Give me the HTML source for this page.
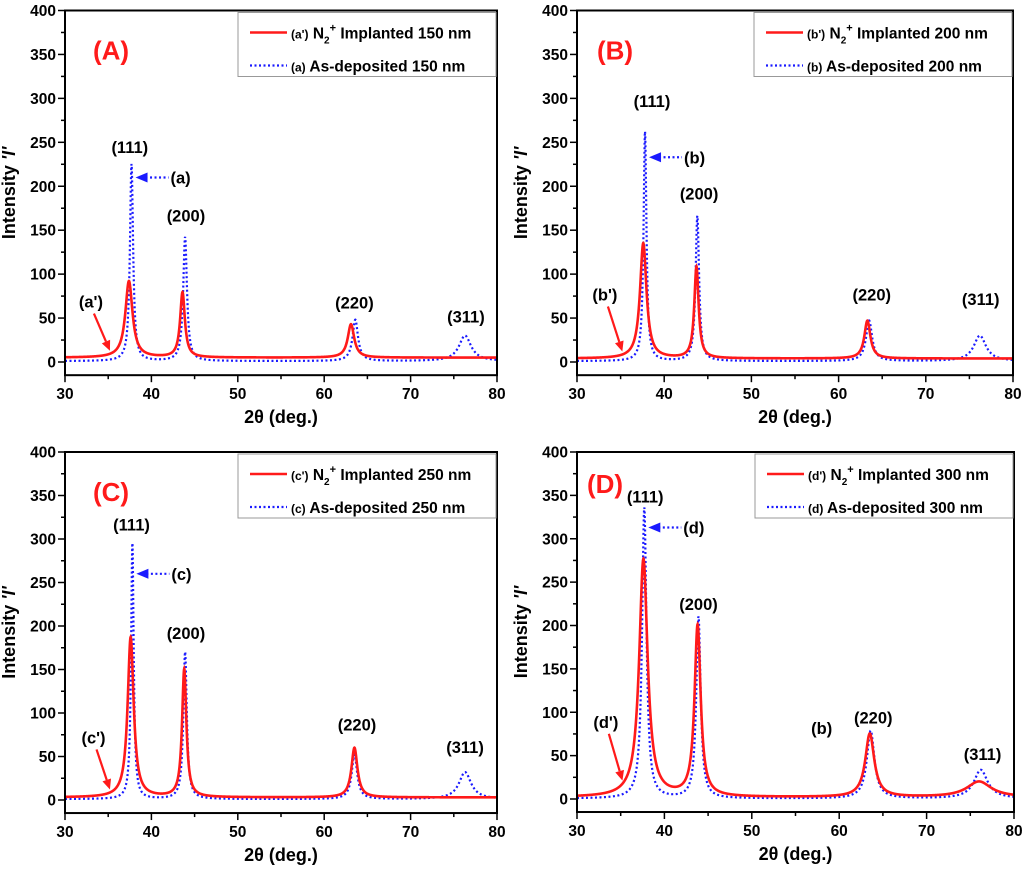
<!DOCTYPE html>
<html><head><meta charset="utf-8">
<style>
html,body{margin:0;padding:0;background:#fff;}
svg{display:block;font-family:"Liberation Sans",Arial,sans-serif;font-weight:bold;}
</style></head>
<body>
<svg id="fig" width="1024" height="875" viewBox="0 0 1024 875" xmlns="http://www.w3.org/2000/svg"></svg>
<script>
// ---- data ----
const panelLetters = ["A","B","C","D"];
const thicknesses = ["150","200","250","300"];
const xTicks = [30,40,50,60,70,80];
const yTicks = [0,50,100,150,200,250,300,350,400];
const hklLabels = ["(111)","(200)","(220)","(311)"];
// peak positions, heights (above baseline), half widths
const redPos = [[37.4,43.6,63.1],[37.6,43.7,63.3],[37.6,43.8,63.5],[37.6,43.8,63.5,76.0]];
const redH   = [[87,74,38],[131,104,43],[184,147,57],[274,197,73,18]];
const redW   = [[0.5,0.33,0.45],[0.45,0.3,0.42],[0.42,0.3,0.42],[0.58,0.42,0.62,1.7]];
const redBase= [5,4,3,2];
const bluePos = [[37.7,43.9,63.6,76.3],[37.8,43.8,63.5,76.2],[37.8,43.9,63.5,76.3],[37.7,43.9,63.6,76.2]];
const blueH   = [[224,141,47,29],[261,165,46,29],[294,169,51,31],[335,209,78,33]];
const blueW   = [[0.22,0.26,0.38,0.85],[0.2,0.24,0.42,0.85],[0.18,0.24,0.38,0.85],[0.3,0.3,0.52,0.95]];
const blueBase= [1,1,1,0.5];
// label positions [x,y] in data coords for hkl labels
const hklPos = [
 [[37.5,238],[44,160],[63.5,61],[76.4,45]],
 [[38.6,290],[44,185],[63.8,70],[76.3,65]],
 [[37.7,310],[44,185],[63.8,80],[76.3,54]],
 [[37.8,342],[43.9,218],[63.9,87],[76.4,45]]
];
const arrowY = [210,233,260,313];   // blue arrow y value
const primeTxt = [[33,62],[33.2,70],[33.3,65],[33.3,82]];
// ---- layout ----
const panels = [
 {l:65,r:497,t:10.5,z:362,lo:28},
 {l:577,r:1013,t:10.5,z:362,lo:20},
 {l:65,r:497,t:452,z:800,lo:28},
 {l:577,r:1014,t:452,z:799,lo:10}
];
const NS="http://www.w3.org/2000/svg";
const svg=document.getElementById('fig');
function mk(tag,attrs,parent){const e=document.createElementNS(NS,tag);for(const k in attrs)e.setAttribute(k,attrs[k]);(parent||svg).appendChild(e);return e;}
function lor(x,pos,h,w,b){let s=b;for(let i=0;i<pos.length;i++){const d=(x-pos[i])/w[i];s+=h[i]/(1+d*d);}return s;}

panels.forEach((P,i)=>{
  const g=mk('g',{});
  
  
  const sx=v=>P.l+(v-30)/50*(P.r-P.l);
  const k=(P.z-P.t)/400;
  const sy=v=>P.z-v*k;
  const bottom=sy(-15);
  const cp=mk('clipPath',{id:'cp'+i},g);
  mk('rect',{x:P.l,y:P.t,width:P.r-P.l,height:bottom-P.t},cp);
  function curve(pos,h,w,b,color,dash,name){
    let d='';
    for(let x=30;x<=80.001;x+=0.02){d+=(d?'L':'M')+sx(x).toFixed(2)+','+sy(lor(x,pos,h,w,b)).toFixed(2);}
    const p=mk('path',{d:d,fill:'none',stroke:color,'stroke-width':dash?2.2:2.6,'clip-path':'url(#cp'+i+')'},g);
    if(dash)p.setAttribute('stroke-dasharray','2 2.5');
    
    
  }
  curve(bluePos[i],blueH[i],blueW[i],blueBase[i],'#1a1aff',true,'as-deposited-curve');
  curve(redPos[i],redH[i],redW[i],redBase[i],'#ff1a1a',false,'implanted-curve');
  const fr=mk('rect',{x:P.l,y:P.t,width:P.r-P.l,height:bottom-P.t,fill:'none',stroke:'#000','stroke-width':2},g);
  
  
  for(let v=0;v<=400;v+=25){
    const major=v%50===0;
    mk('line',{x1:P.l-(major?7:4),x2:P.l,y1:sy(v),y2:sy(v),stroke:'#000','stroke-width':1.5},g);
  }
  yTicks.forEach(v=>{
    const t=mk('text',{x:P.l-9,y:sy(v)+5.5,'text-anchor':'end','font-size':15.5},g);
    t.textContent=v;
    
    
  });
  for(let v=30;v<=80;v+=5){
    const major=v%10===0;
    mk('line',{x1:sx(v),x2:sx(v),y1:bottom,y2:bottom+(major?7:4),stroke:'#000','stroke-width':1.5},g);
  }
  xTicks.forEach(v=>{
    const t=mk('text',{x:sx(v),y:bottom+24,'text-anchor':'middle','font-size':15.5},g);
    t.textContent=v;
    
    
  });
  const xt=mk('text',{x:(P.l+P.r)/2,y:bottom+48,'text-anchor':'middle','font-size':18},g);
  xt.textContent='2θ (deg.)';
  
  
  const yt=mk('text',{x:0,y:0,'text-anchor':'middle','font-size':18,transform:`translate(${P.l-50},${(P.t+bottom)/2}) rotate(-90)`},g);
  yt.innerHTML="Intensity <tspan font-style='italic'>'I'</tspan>";
  
  
  const pl=mk('text',{x:P.l+P.lo,y:P.t+(i===3?41:49),'font-size':26,fill:'#ff1a1a'},g);
  pl.textContent='('+panelLetters[i]+')';
  
  
  const lx=P.r-259, ly=P.t+2;
  const lg=mk('g',{},g);
  
  
  mk('rect',{x:lx,y:ly,width:258,height:64,fill:'#fff',stroke:'#999','stroke-width':1},lg);
  mk('line',{x1:lx+12,x2:lx+49,y1:ly+20,y2:ly+20,stroke:'#ff1a1a','stroke-width':2.6},lg);
  mk('line',{x1:lx+12,x2:lx+49,y1:ly+53,y2:ly+53,stroke:'#1a1aff','stroke-width':2.2,'stroke-dasharray':'2 2.5'},lg);
  const l=String.fromCharCode(97+i);
  const t1=mk('text',{x:lx+53,y:ly+26,'font-size':15.5},lg);
  t1.innerHTML=`<tspan font-size="12">(${l}')</tspan> N<tspan font-size="10" dy="5">2</tspan><tspan font-size="11" dy="-12">+</tspan><tspan dy="7"> Implanted ${thicknesses[i]} nm</tspan>`;
  
  
  const t2=mk('text',{x:lx+53,y:ly+59,'font-size':15.5},lg);
  t2.innerHTML=`<tspan font-size="12">(${l})</tspan> As-deposited ${thicknesses[i]} nm`;
  
  
  hklLabels.forEach((h,j)=>{
    const t=mk('text',{x:sx(hklPos[i][j][0]),y:sy(hklPos[i][j][1]),'text-anchor':'middle','font-size':16.5},g);
    t.textContent=h;
    
    
  });
  const ax=sx(bluePos[i][0])+4, ay=sy(arrowY[i]);
  mk('line',{x1:ax+10,x2:ax+33,y1:ay,y2:ay,stroke:'#1a1aff','stroke-width':2.2,'stroke-dasharray':'2 2.5'},g);
  const ah=mk('polygon',{points:`${ax},${ay} ${ax+12},${ay-5} ${ax+12},${ay+5}`,fill:'#1a1aff'},g);
  
  
  const at=mk('text',{x:ax+35,y:ay+6,'font-size':16.5},g);
  at.textContent='('+l+')';
  
  
  const px=sx(primeTxt[i][0]), py=sy(primeTxt[i][1]);
  const pt=mk('text',{x:px,y:py,'text-anchor':'middle','font-size':16.5},g);
  pt.textContent='('+l+"')";
  
  
  const tx=sx(35.2), ty=sy(lor(35.2,redPos[i],redH[i],redW[i],redBase[i]))-3;
  const sx0=px+3, sy0=py+6;
  const ang=Math.atan2(ty-sy0,tx-sx0);
  const bx=tx-10*Math.cos(ang), by=ty-10*Math.sin(ang);
  mk('line',{x1:sx0,y1:sy0,x2:bx,y2:by,stroke:'#ff1a1a','stroke-width':2.2},g);
  const nx=-Math.sin(ang)*4.5, ny=Math.cos(ang)*4.5;
  const ra=mk('polygon',{points:`${tx},${ty} ${bx+nx},${by+ny} ${bx-nx},${by-ny}`,fill:'#ff1a1a'},g);
  
  
});
const PD=panels[3];
const eb=mk('text',{x:PD.l+(58-30)/50*(PD.r-PD.l),y:PD.z-75*(PD.z-PD.t)/400,'text-anchor':'middle','font-size':16.5});
eb.textContent='(b)';


</script>
</body></html>
